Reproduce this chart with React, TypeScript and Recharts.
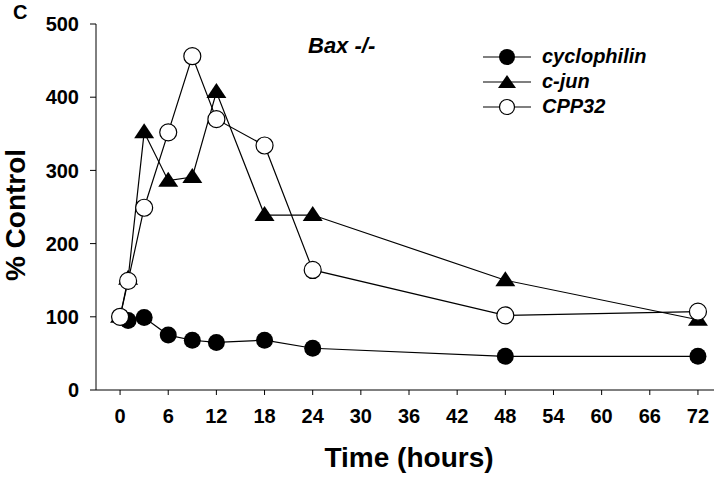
import { LineChart, Line, XAxis, YAxis, Legend, Label } from 'recharts';

const HOURS = [0, 1, 3, 6, 9, 12, 18, 24, 48, 72];
const CYCLOPHILIN = [100, 95, 99, 75, 68, 65, 68, 57, 46, 46];
const CJUN = [100, 152, 352, 286, 291, 407, 239, 239, 150, 96];
const CPP32 = [100, 149, 249, 352, 456, 370, 334, 164, 102, 107];
const X_TICKS = [0, 6, 12, 18, 24, 30, 36, 42, 48, 54, 60, 66, 72];
const Y_TICKS = [0, 100, 200, 300, 400, 500];

const data = HOURS.map((h, i) => ({ h, cyc: CYCLOPHILIN[i], jun: CJUN[i], cpp: CPP32[i] }));

const FONT = '"Liberation Sans", Arial, sans-serif';

const FilledDot = (p: any) => <circle key={p.index} cx={p.cx} cy={p.cy} r={8.5} fill="#000" />;
const OpenDot = (p: any) => <circle key={p.index} cx={p.cx} cy={p.cy} r={8.5} fill="#fff" stroke="#000" strokeWidth={1.2} />;
const TriDot = (p: any) => (
  <polygon key={p.index} points={`${p.cx},${p.cy - 9} ${p.cx - 10},${p.cy + 6} ${p.cx + 10},${p.cy + 6}`} fill="#000" />
);

function LegendBox() {
  const rows = [
    { name: 'cyclophilin', mark: <circle cx={24} cy={10} r={8} fill="#000" /> },
    { name: 'c-jun', mark: <polygon points="24,3 15,16 33,16" fill="#000" /> },
    { name: 'CPP32', mark: <circle cx={24} cy={10} r={7.5} fill="#fff" stroke="#000" strokeWidth={1.2} /> },
  ];
  return (
    <div>
      {rows.map((r) => (
        <div key={r.name} style={{ display: 'flex', alignItems: 'center', height: 25 }}>
          <svg width={48} height={20}>
            <line x1={0} x2={48} y1={10} y2={10} stroke="#000" strokeWidth={1.2} />
            {r.mark}
          </svg>
          <span style={{ marginLeft: 11, fontFamily: FONT, fontWeight: 'bold', fontStyle: 'italic', fontSize: 20, lineHeight: '25px' }}>{r.name}</span>
        </div>
      ))}
    </div>
  );
}

export default function App() {
  const tick = { fill: '#000', fontFamily: FONT, fontWeight: 'bold', fontSize: 20 } as any;
  return (
    <div style={{ position: 'absolute', left: 0, top: 0, width: 720, height: 477, background: '#fff' }}>
      <LineChart width={720} height={477} data={data} margin={{ top: 24, right: 6, bottom: 0, left: 0 }}>
        <XAxis dataKey="h" type="number" domain={[-3, 74]} ticks={X_TICKS} allowDataOverflow
          stroke="#000" tick={tick} tickSize={5} tickMargin={14} height={87}>
          <Label content={() => (
            <text x={409} y={467} textAnchor="middle" fill="#000" fontFamily={FONT} fontWeight="bold" fontSize={28}>Time (hours)</text>
          )} />
        </XAxis>
        <XAxis xAxisId="top" orientation="top" dataKey="h" type="number" domain={[-3, 74]} tick={false} tickLine={false} height={0} stroke="#444" />
        <YAxis domain={[0, 500]} ticks={Y_TICKS} stroke="#000" tick={tick} tickSize={6} tickMargin={11} width={96}>
          <Label content={() => (
            <text x={25} y={215} transform="rotate(-90 25 215)" textAnchor="middle" fill="#000" fontFamily={FONT} fontWeight="bold" fontSize={28}>% Control</text>
          )} />
        </YAxis>
        <YAxis yAxisId="right" orientation="right" domain={[0, 500]} tick={false} tickLine={false} width={0} stroke="#444" />
        <Legend content={<LegendBox />} layout="vertical" verticalAlign="middle" align="center"
          wrapperStyle={{ left: 483, top: 44, width: 200 }} />
        <Line dataKey="cyc" stroke="#000" strokeWidth={1.2} dot={FilledDot} isAnimationActive={false} />
        <Line dataKey="jun" stroke="#000" strokeWidth={1.2} dot={TriDot} isAnimationActive={false} />
        <Line dataKey="cpp" stroke="#000" strokeWidth={1.2} dot={OpenDot} isAnimationActive={false} />
        <text x={13} y={19} fill="#000" fontFamily={FONT} fontWeight="bold" fontSize={20}>C</text>
        <text x={308} y={53} fill="#000" fontFamily={FONT} fontWeight="bold" fontStyle="italic" fontSize={22}>Bax -/-</text>
      </LineChart>
    </div>
  );
}
